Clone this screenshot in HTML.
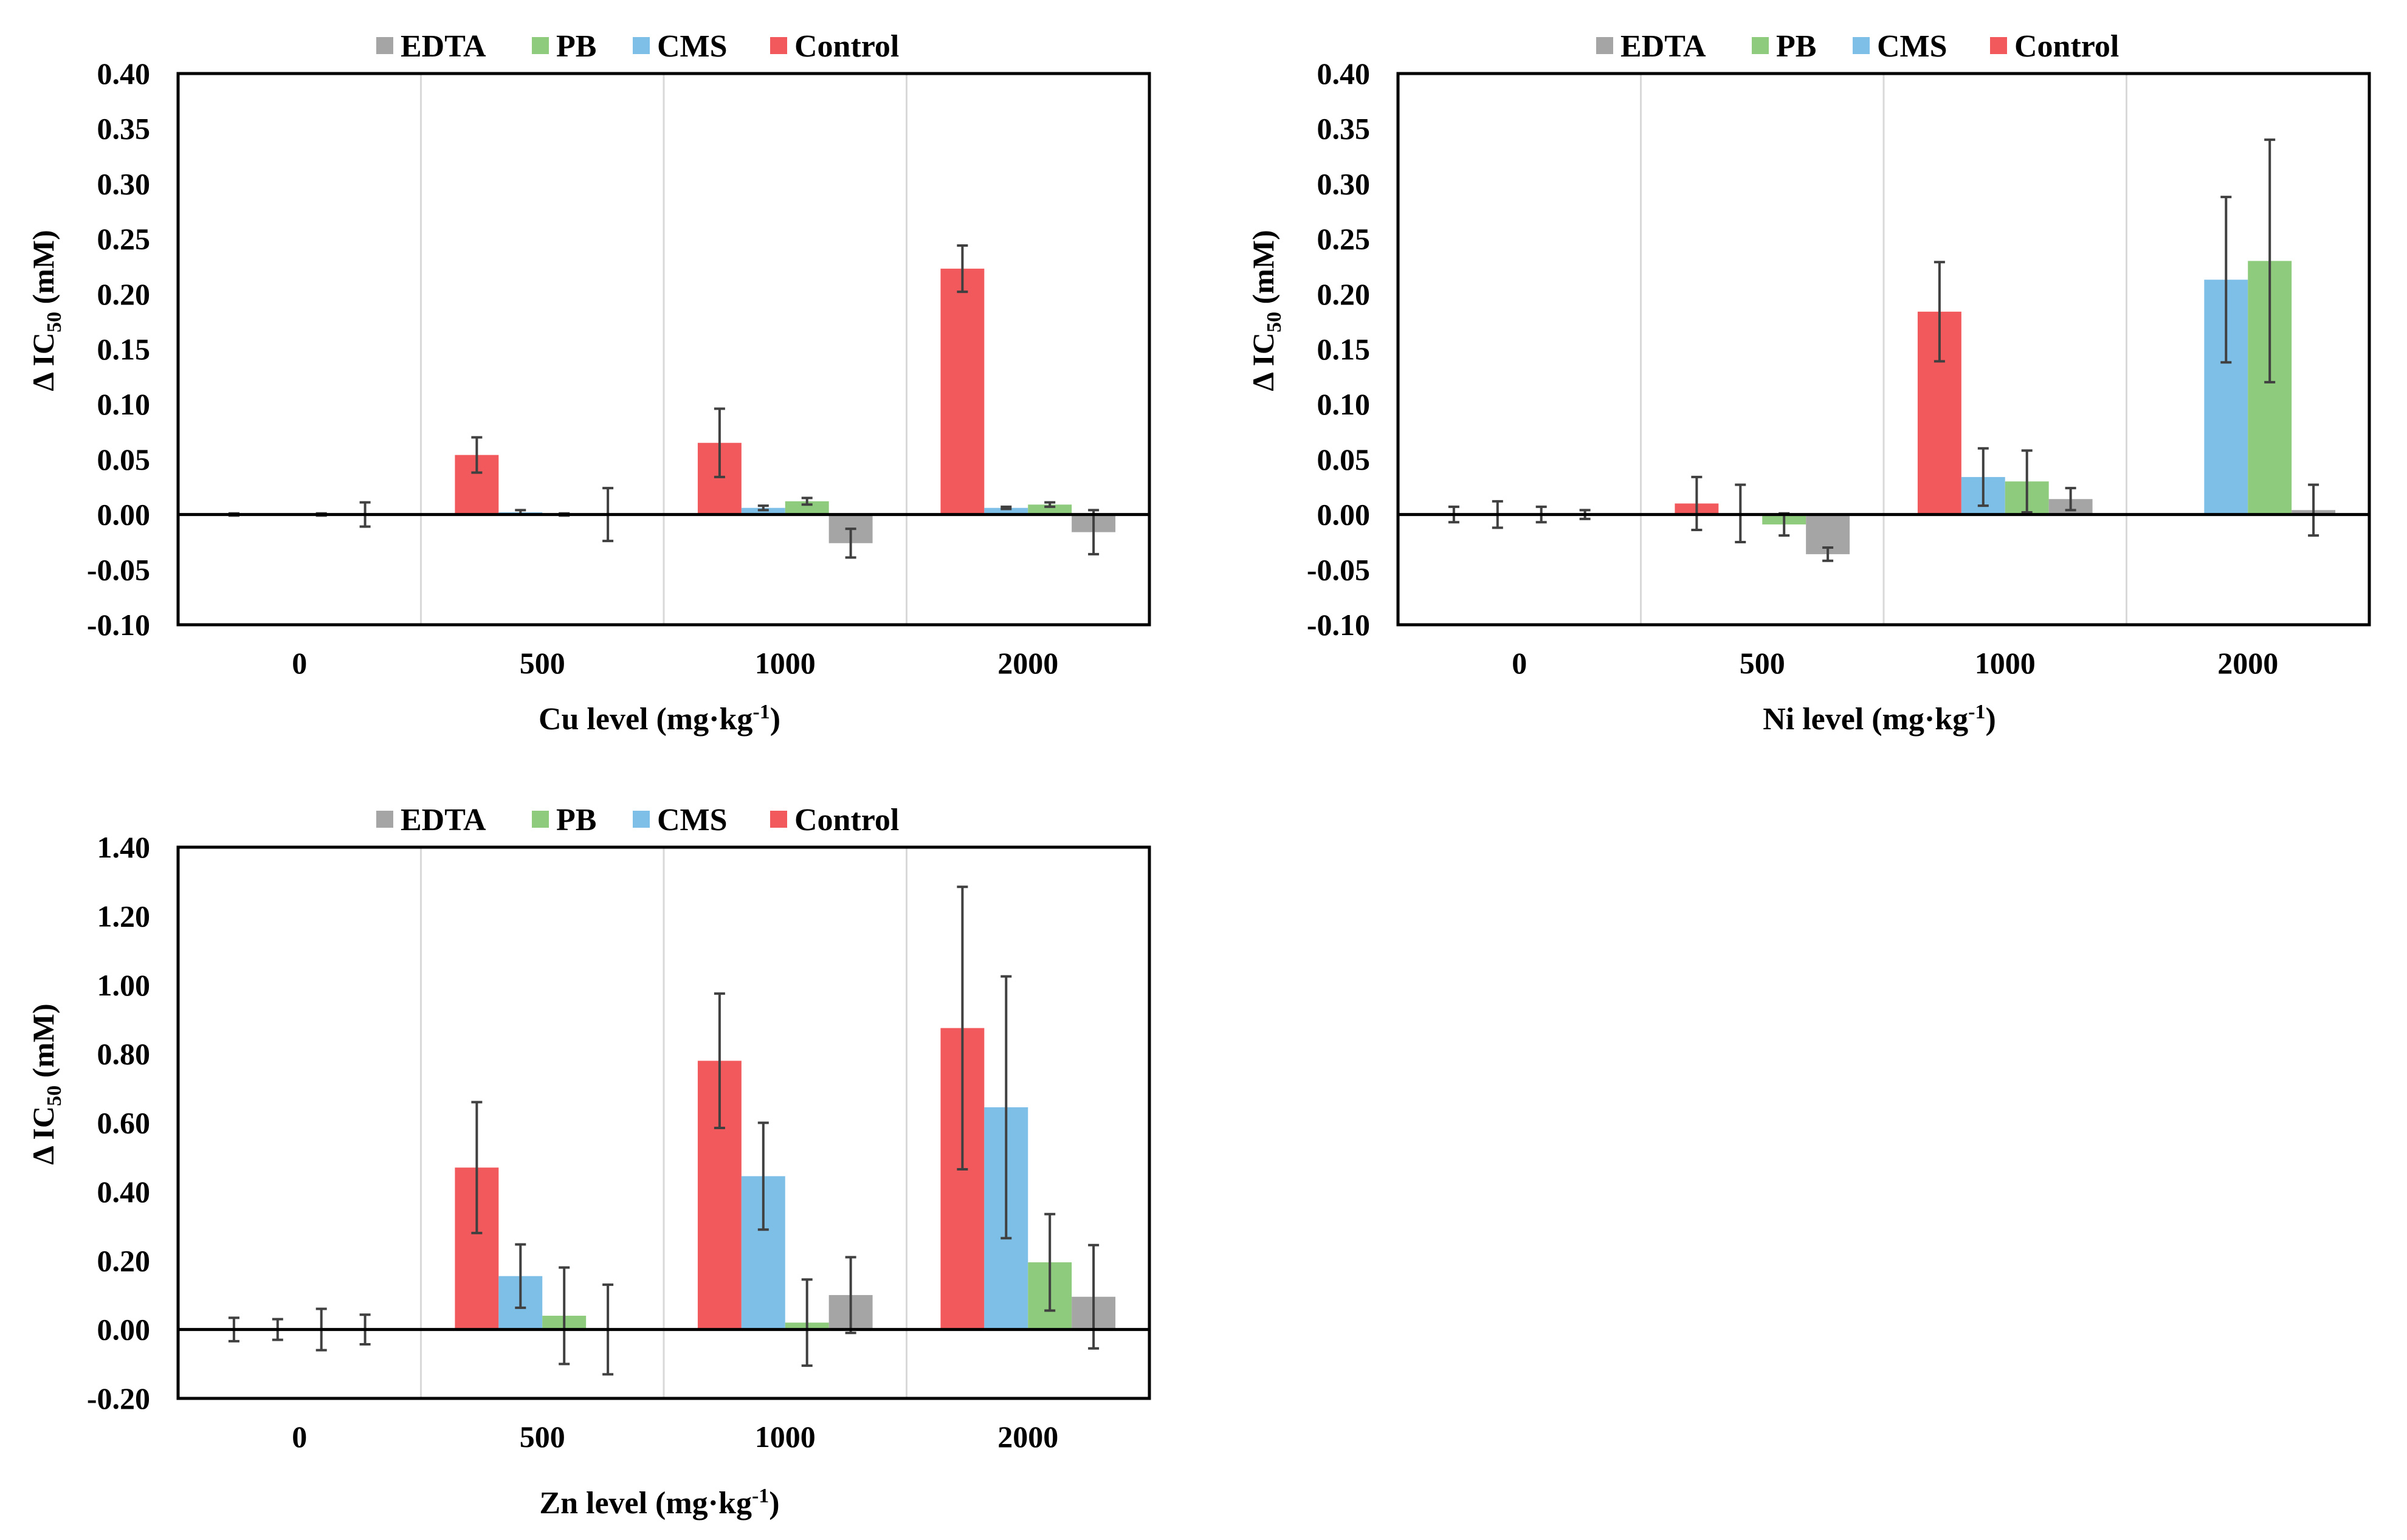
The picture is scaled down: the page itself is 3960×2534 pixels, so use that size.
<!DOCTYPE html>
<html><head><meta charset="utf-8"><style>
html,body{margin:0;padding:0;background:#fff;}
svg{display:block;font-family:"Liberation Serif",serif;font-weight:bold;}
</style></head><body>
<svg id="fig" width="3960" height="2534" viewBox="0 0 3960 2534" xmlns="http://www.w3.org/2000/svg"></svg>
<script>
const categories = ["0","500","1000","2000"];
const seriesNames = ["Control","CMS","PB","EDTA"];
const legendOrder = ["EDTA","PB","CMS","Control"];
// Cu
const cuControl = [0, 0.054, 0.065, 0.223];
const cuCMS = [0, 0.002, 0.006, 0.006];
const cuPB = [0, 0, 0.012, 0.009];
const cuEDTA = [0, 0, -0.026, -0.016];
const cuControlErr = [0.001, 0.016, 0.031, 0.021];
const cuCMSErr = [0, 0.002, 0.002, 0.001];
const cuPBErr = [0.001, 0.001, 0.003, 0.002];
const cuEDTAErr = [0.011, 0.024, 0.013, 0.02];
// Ni
const niControl = [0, 0.010, 0.184, 0];
const niCMS = [0, 0.001, 0.034, 0.213];
const niPB = [0, -0.009, 0.030, 0.230];
const niEDTA = [0, -0.036, 0.014, 0.004];
const niControlErr = [0.007, 0.024, 0.045, 0];
const niCMSErr = [0.012, 0.026, 0.026, 0.075];
const niPBErr = [0.007, 0.010, 0.028, 0.11];
const niEDTAErr = [0.004, 0.006, 0.010, 0.023];
// Zn
const znControl = [0, 0.47, 0.78, 0.875];
const znCMS = [0, 0.155, 0.445, 0.645];
const znPB = [0, 0.04, 0.02, 0.195];
const znEDTA = [0, 0, 0.10, 0.095];
const znControlErr = [0.034, 0.19, 0.195, 0.41];
const znCMSErr = [0.03, 0.092, 0.155, 0.38];
const znPBErr = [0.06, 0.14, 0.125, 0.14];
const znEDTAErr = [0.043, 0.13, 0.11, 0.15];
const smallTicks = ["0.40","0.35","0.30","0.25","0.20","0.15","0.10","0.05","0.00","-0.05","-0.10"];
const znTicks = ["1.40","1.20","1.00","0.80","0.60","0.40","0.20","0.00","-0.20"];

const colors = {Control:"#F2595C", CMS:"#7EBFE7", PB:"#8ECB7D", EDTA:"#A5A5A5"};
const NS = "http://www.w3.org/2000/svg";
const svg = document.getElementById("fig");
function mk(tag, attrs, parent){
  const e = document.createElementNS(NS, tag);
  for (const k in attrs) e.setAttribute(k, attrs[k]);
  (parent||svg).appendChild(e);
  return e;
}

function drawChart(opt){
  const g = mk("g", {});
  
  
  const L = opt.x0, R = opt.x0 + 1598, T = opt.y0, B = opt.y0 + 907;
  const yMin = opt.yMin, yMax = opt.yMax;
  const yScale = v => T + (yMax - v) / (yMax - yMin) * (B - T);
  const catW = (R - L) / categories.length;
  const xCat = i => L + catW * (i + 0.5);
  const barW = catW * 0.18;
  for (let i = 1; i < categories.length; i++) {
    const s = mk("line", {x1: L + catW*i, x2: L + catW*i, y1: T, y2: B, stroke: "#d9d9d9", "stroke-width": 3}, g);
    
    
  }
  const vals = opt.values, errs = opt.errors;
  seriesNames.forEach((sn, si) => {
    categories.forEach((c, ci) => {
      const v = vals[si][ci];
      const x = xCat(ci) - 2*barW + si*barW;
      const y0 = yScale(0), y1 = yScale(v);
      const r = mk("rect", {x: x, y: Math.min(y0,y1), width: barW, height: Math.abs(y1-y0), fill: colors[sn]}, g);
      
      
      const e = errs[si][ci];
      if (e > 0) {
        const cx = x + barW/2;
        const eg = mk("g", {stroke: "#404040", "stroke-width": 4}, g);
        
        
        mk("line", {x1: cx, x2: cx, y1: yScale(v+e), y2: yScale(v-e)}, eg);
        mk("line", {x1: cx-9, x2: cx+9, y1: yScale(v+e), y2: yScale(v+e)}, eg);
        mk("line", {x1: cx-9, x2: cx+9, y1: yScale(v-e), y2: yScale(v-e)}, eg);
      }
    });
  });
  const z = mk("line", {x1: L, x2: R, y1: yScale(0), y2: yScale(0), stroke: "#000", "stroke-width": 5}, g);
  
  
  const f = mk("rect", {x: L, y: T, width: R-L, height: B-T, fill: "none", stroke: "#000", "stroke-width": 5}, g);
  
  
  opt.ticks.forEach(t => {
    const tx = mk("text", {x: L - 46, y: yScale(parseFloat(t)) + 17, "text-anchor": "end", "font-size": 50}, g);
    tx.textContent = t;
    
    
  });
  categories.forEach((c, ci) => {
    const tx = mk("text", {x: xCat(ci), y: T + 987, "text-anchor": "middle", "font-size": 50}, g);
    tx.textContent = c;
    
    
  });
  const xt = mk("text", {x: L + 792, y: opt.xTitleY, "text-anchor": "middle", "font-size": 52}, g);
  
  
  xt.appendChild(document.createTextNode(opt.metal + " level (mg\u00b7kg"));
  const sup = mk("tspan", {dy: -18, "font-size": 34}, xt); sup.textContent = "-1";
  const cl = mk("tspan", {dy: 18}, xt); cl.textContent = ")";
  const yc = T + 390;
  const yt = mk("text", {x: 0, y: 0, "text-anchor": "middle", "font-size": 50, transform: "translate(" + (L - 205) + "," + yc + ") rotate(-90)"}, g);
  
  
  yt.appendChild(document.createTextNode("\u0394 IC"));
  const sb = mk("tspan", {dy: 12, "font-size": 34}, yt); sb.textContent = "50";
  const rest = mk("tspan", {dy: -12}, yt); rest.textContent = " (mM)";
  const lg = mk("g", {}, g);
  
  
  const lx = [0, 256, 422, 648];
  legendOrder.forEach((sn, i) => {
    const eg = mk("g", {}, lg);
    
    
    const bx = L + 326 + lx[i];
    mk("rect", {x: bx, y: opt.legendY - 14, width: 28, height: 28, fill: colors[sn]}, eg);
    const t = mk("text", {x: bx + 40, y: opt.legendY + 18, "font-size": 52}, eg);
    t.textContent = sn;
  });
}

drawChart({name: "cu-chart", metal: "Cu", x0: 293, y0: 121, yMin: -0.10, yMax: 0.40, ticks: smallTicks,
  values: [cuControl, cuCMS, cuPB, cuEDTA], errors: [cuControlErr, cuCMSErr, cuPBErr, cuEDTAErr],
  legendY: 75, xTitleY: 1200});
drawChart({name: "ni-chart", metal: "Ni", x0: 2300, y0: 121, yMin: -0.10, yMax: 0.40, ticks: smallTicks,
  values: [niControl, niCMS, niPB, niEDTA], errors: [niControlErr, niCMSErr, niPBErr, niEDTAErr],
  legendY: 75, xTitleY: 1200});
drawChart({name: "zn-chart", metal: "Zn", x0: 293, y0: 1394, yMin: -0.20, yMax: 1.40, ticks: znTicks,
  values: [znControl, znCMS, znPB, znEDTA], errors: [znControlErr, znCMSErr, znPBErr, znEDTAErr],
  legendY: 1348, xTitleY: 2490});
</script>
</body></html>
